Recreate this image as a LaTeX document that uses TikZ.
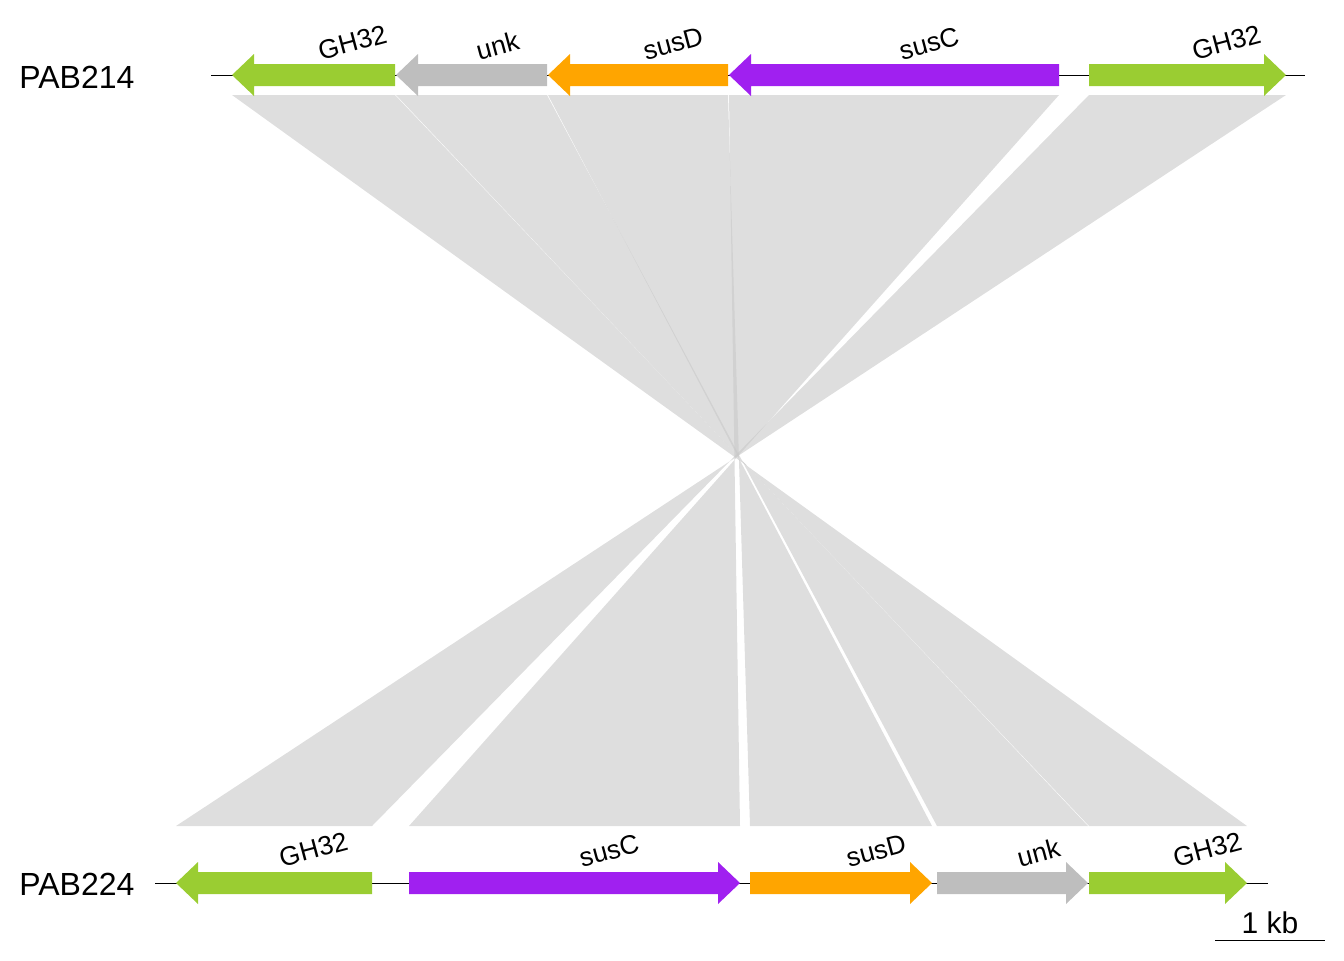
\documentclass[tikz,border=0pt]{standalone}
\usepackage{fontspec}
\setmainfont{Liberation Sans}
\usetikzlibrary{positioning}
\definecolor{ghgreen}{RGB}{154,205,50}
\definecolor{unkgray}{RGB}{190,190,190}
\definecolor{susdorange}{RGB}{255,165,0}
\definecolor{suscpurple}{RGB}{160,32,240}
\definecolor{bandgray}{RGB}{200,200,200}

\begin{document}
\begin{tikzpicture}[x=0.5pt, y=-0.5pt,
			band/.style={fill=bandgray, opacity=0.6},   %Vergleichsbaender
			glabel/.style={anchor=south west, rotate=15, inner sep=0pt, font=\fontsize{13.3}{13}\selectfont},
			trackname/.style={anchor=west, inner sep=0pt, font=\fontsize{16}{16}\selectfont}]
			\useasboundingbox (0,0) rectangle (1344,960);
			%Baender zeichnen
			\foreach \a/\b/\c/\d in {232/395/1089/1247, 396/547/937/1088, 548/728/750/932, 729/1059/409/740, 1089/1286/176/372}
				\fill[band] (\a,95) -- (\b,95) -- (\c,826) -- (\d,826) -- cycle;
			% Achsen der Genome
			\draw (211,75) -- (1305,75);
			\draw (155,883) -- (1268,883);
			% Gene nach links
			\foreach \s/\e/\y/\col in {232/395/75/ghgreen, 396/547/75/unkgray, 548/728/75/susdorange, 729/1059/75/suscpurple, 176/372/883/ghgreen}
				\fill[\col] (\s,\y) -- (\s+22,\y-21) -- (\s+22,\y-11) -- (\e,\y-11) -- (\e,\y+11) -- (\s+22,\y+11) -- (\s+22,\y+21) -- cycle;
			% Gene nach rechts
			\foreach \s/\e/\y/\col in {1089/1286/75/ghgreen, 409/740/883/suscpurple, 750/932/883/susdorange, 937/1088/883/unkgray, 1089/1247/883/ghgreen}
				\fill[\col] (\e,\y) -- (\e-22,\y-21) -- (\e-22,\y-11) -- (\s,\y-11) -- (\s,\y+11) -- (\e-22,\y+11) -- (\e-22,\y+21) -- cycle;
			% Gene beschriften
			\foreach \x/\txt [count=\i] in {321/GH32, 479/unk, 646/susD, 902/susC, 1195/GH32}
				\node[glabel] (top\i) at (\x,61) {\txt};
			\foreach \x/\txt [count=\i] in {282/GH32, 582/susC, 849/susD, 1020/unk, 1176/GH32}
				\node[glabel] (bot\i) at (\x,868) {\txt};
			% Namen
			\node[trackname] (pab214) at (19,77) {PAB214};
			\node[trackname] (pab224) at (19,884) {PAB224};
			% Massstab
			\coordinate (barl) at (1215,940);
			\coordinate (barr) at (1325,940);
			\draw (barl) -- (barr) node[midway, above=3pt, inner sep=0pt, font=\fontsize{15}{15}\selectfont] (kb) {1 kb};
		\end{tikzpicture}
\end{document}
